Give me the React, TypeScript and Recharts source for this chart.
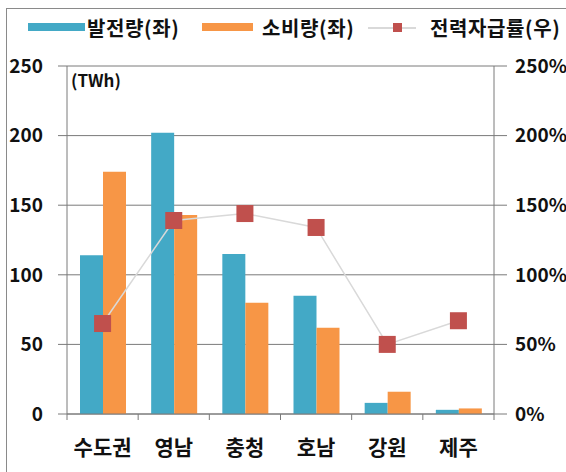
import { ComposedChart, Bar, Line, XAxis, YAxis, CartesianGrid } from "recharts"

const regions = ["수도권", "영남", "충청", "호남", "강원", "제주"]
const generation = [114, 202, 115, 85, 8, 3]
const consumption = [174, 143, 80, 62, 16, 4]
const selfSufficiency = [65, 139, 144, 134, 50, 67]
const leftTicks = [0, 50, 100, 150, 200, 250]
const rightTicks = [0, 50, 100, 150, 200, 250]

const data = regions.map((region, i) => ({
  region,
  gen: generation[i],
  con: consumption[i],
  rate: selfSufficiency[i],
}))

const FONT = "'Noto Sans CJK KR', 'Noto Sans', sans-serif"
const BLUE = "#43a9c6"
const ORANGE = "#f79646"
const RED = "#c0504d"
const GRID = "#7a7a7a"

const SquareDot = (props: any) => {
  const { cx, cy } = props
  if (cx == null || cy == null) return null
  return <rect x={cx - 8.5} y={cy - 8.5} width={17} height={17} fill={RED} />
}

const XTick = (props: any) => {
  const { x, y, payload, index } = props
  const half = payload && payload.offset ? payload.offset : 35.6
  return (
    <g>
      <line x1={x - half} x2={x - half} y1={y} y2={y + 6} stroke={GRID} />
      {index === regions.length - 1 && (
        <line x1={x + half} x2={x + half} y1={y} y2={y + 6} stroke={GRID} />
      )}
      <text
        x={x}
        y={y + 41}
        textAnchor="middle"
        fontFamily={FONT}
        fontSize={21}
        fontWeight={700}
        fill="#111"
      >
        {payload.value}
      </text>
    </g>
  )
}

const legendText = {
  position: "absolute" as const,
  top: 15,
  fontSize: 20,
  fontWeight: 700,
  letterSpacing: 0.6,
  lineHeight: "26px",
  color: "#111",
  whiteSpace: "nowrap" as const,
}

export default function App() {
  return (
    <div style={{ position: "absolute", left: 0, top: 0, width: 566, height: 472, background: "#fff", fontFamily: FONT }}>
      <div
        style={{
          position: "absolute",
          left: 6,
          top: 8,
          width: 559,
          height: 463,
          borderLeft: "1.5px solid #8a8a8a",
          borderTop: "1.5px solid #8a8a8a",
        }}
      />
      <ComposedChart
        width={566}
        height={472}
        data={data}
        margin={{ top: 66, right: 0, bottom: 0, left: 0 }}
        barGap={0}
        style={{ position: "absolute", left: 0, top: 0 }}
      >
        <CartesianGrid yAxisId="left" vertical={false} stroke={GRID} strokeWidth={1} />
        <XAxis
          dataKey="region"
          height={58}
          axisLine={{ stroke: GRID }}
          tickLine={false}
          tickSize={0}
          tickMargin={0}
          tick={<XTick />}
          interval={0}
        />
        <YAxis
          yAxisId="left"
          width={67}
          domain={[0, 250]}
          ticks={leftTicks}
          axisLine={{ stroke: GRID }}
          tickLine={{ stroke: GRID }}
          tickSize={9}
          tickMargin={15}
          tick={{ fill: "#111", fontSize: 19, fontWeight: 700, fontFamily: FONT }}
        />
        <YAxis
          yAxisId="right"
          orientation="right"
          width={72}
          domain={[0, 250]}
          ticks={rightTicks}
          tickFormatter={(v: number) => `${v}%`}
          axisLine={{ stroke: GRID }}
          tickLine={{ stroke: GRID }}
          tickSize={13}
          tickMargin={8}
          tick={{ fill: "#111", fontSize: 19, fontWeight: 700, fontFamily: FONT }}
        />
        <Bar yAxisId="left" dataKey="gen" name="발전량(좌)" fill={BLUE} barSize={23} isAnimationActive={false} />
        <Bar yAxisId="left" dataKey="con" name="소비량(좌)" fill={ORANGE} barSize={23} isAnimationActive={false} />
        <Line
          yAxisId="right"
          dataKey="rate"
          name="전력자급률(우)"
          stroke="#d9d9d9"
          strokeWidth={1.5}
          dot={<SquareDot />}
          activeDot={false}
          isAnimationActive={false}
        />
      </ComposedChart>

      {/* legend */}
      <div style={{ position: "absolute", left: 28, top: 23, width: 57, height: 8, background: BLUE }} />
      <div style={{ ...legendText, left: 87 }}>발전량(좌)</div>
      <div style={{ position: "absolute", left: 202, top: 23, width: 51, height: 8, background: ORANGE }} />
      <div style={{ ...legendText, left: 262 }}>소비량(좌)</div>
      <div style={{ position: "absolute", left: 368, top: 27, width: 48, height: 1.5, background: "#d9d9d9" }} />
      <div style={{ position: "absolute", left: 393, top: 23, width: 9, height: 9, background: RED }} />
      <div style={{ ...legendText, left: 430 }}>전력자급률(우)</div>

      <div style={{ position: "absolute", left: 71, top: 69, fontSize: 17, fontWeight: 700, lineHeight: "22px", color: "#111" }}>
        (TWh)
      </div>
    </div>
  )
}
